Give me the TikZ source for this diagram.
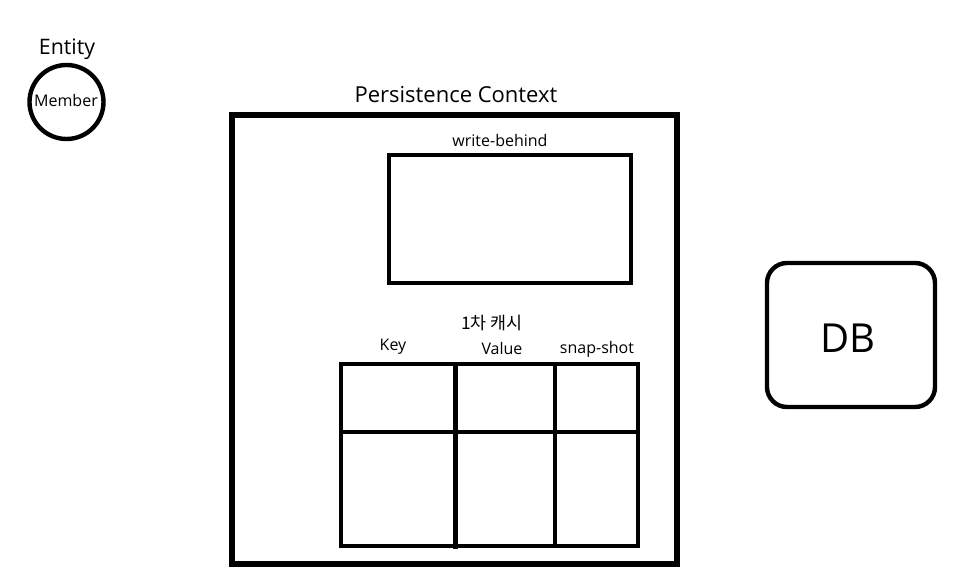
\documentclass[tikz,border=0pt]{standalone}
\usepackage{fontspec}
\setmainfont{Open Sans}
\newfontfamily\krfont{Noto Sans CJK KR}
\begin{document}
\begin{tikzpicture}[x=0.75pt,y=-0.75pt,
  thickline/.style={line width=3.3pt,draw=black},
  outerline/.style={line width=3.8pt,draw=black},
  lbl/.style={inner sep=0pt,font=\fontsize{12}{14}\selectfont}]
\useasboundingbox[fill=white] (0,0) rectangle (972,588);
% Entity
\node[font=\fontsize{16}{19}\selectfont,inner sep=0pt] (entity) at (67,49) {Entity};
\draw[thickline] (66.5,102) circle (37);
\node[font=\fontsize{12}{14}\selectfont,inner sep=0pt] (member) at (66,101) {Member};
% Persistence context
\node[font=\fontsize{16.5}{20}\selectfont,inner sep=0pt] (pctitle) at (456,95) {Persistence Context};
\draw[outerline] (232,115) rectangle (677,564);
% write-behind
\node[lbl] (wbtitle) at (500,141) {write-behind};
\draw[thickline] (389,155) rectangle (631,283);
% first-level cache
\node[lbl,font=\krfont\fontsize{13}{15}\selectfont] (cachetitle) at (492,323) {1차 캐시};
\node[lbl] (key) at (393,347) {Key};
\node[lbl] (value) at (502,348) {Value};
\node[lbl] (snap) at (597,349) {snap-shot};
\draw[thickline] (341,364) rectangle (638,546);
\draw[thickline] (341,432) -- (638,432);
\draw[thickline] (455.5,364) -- (455.5,549);
\draw[thickline] (555,364) -- (555,546);
% DB
\draw[thickline,rounded corners=15pt] (767,263) rectangle (935,407);
\node[font=\fontsize{30}{36}\selectfont,inner sep=0pt] (db) at (848,338) {DB};
\end{tikzpicture}
\end{document}
